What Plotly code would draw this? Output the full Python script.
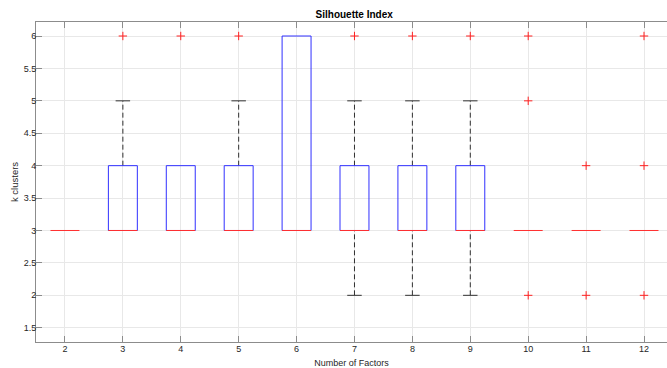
import plotly.graph_objects as go

factors = [2, 3, 4, 5, 6, 7, 8, 9, 10, 11, 12]
q1 = [3, 3, 3, 3, 3, 3, 3, 3, 3, 3, 3]
medians = [3, 3, 3, 3, 3, 3, 3, 3, 3, 3, 3]
q3 = [3, 4, 4, 4, 6, 4, 4, 4, 3, 3, 3]
whisker_lo = [3, 3, 3, 3, 3, 2, 2, 2, 3, 3, 3]
whisker_hi = [3, 5, 4, 5, 6, 5, 5, 5, 3, 3, 3]
outliers = {
    3: [6], 4: [6], 5: [6], 7: [6], 8: [6], 9: [6],
    10: [2, 5, 6], 11: [2, 4], 12: [2, 4, 6],
}

BOX_HALF = 0.25
CAP_HALF = 0.125

fig = go.Figure()

bx, by = [], []
mx, my = [], []
wx, wy = [], []
cx, cy = [], []
for f, a, m, b, lo, hi in zip(factors, q1, medians, q3, whisker_lo, whisker_hi):
    if b > a:
        bx += [f - BOX_HALF, f + BOX_HALF, f + BOX_HALF, f - BOX_HALF, f - BOX_HALF, None]
        by += [a, a, b, b, a, None]
    if hi > b:
        wx += [f, f, None]
        wy += [b, hi, None]
        cx += [f - CAP_HALF, f + CAP_HALF, None]
        cy += [hi, hi, None]
    if lo < a:
        wx += [f, f, None]
        wy += [lo, a, None]
        cx += [f - CAP_HALF, f + CAP_HALF, None]
        cy += [lo, lo, None]
    mx += [f - BOX_HALF, f + BOX_HALF, None]
    my += [m, m, None]

ox, oy = [], []
for f, vals in outliers.items():
    for v in vals:
        ox.append(f)
        oy.append(v)

fig.add_trace(go.Scatter(x=wx, y=wy, mode="lines",
                         line=dict(color="#303030", width=1, dash="5px,3px"),
                         hoverinfo="skip"))
fig.add_trace(go.Scatter(x=cx, y=cy, mode="lines",
                         line=dict(color="#303030", width=1), hoverinfo="skip"))
fig.add_trace(go.Scatter(x=bx, y=by, mode="lines",
                         line=dict(color="#3030ff", width=1), hoverinfo="skip"))
fig.add_trace(go.Scatter(x=mx, y=my, mode="lines",
                         line=dict(color="#ff3030", width=1), hoverinfo="skip"))
fig.add_trace(go.Scatter(x=ox, y=oy, mode="markers",
                         marker=dict(symbol="cross-thin", size=6,
                                     line=dict(color="#ff2020", width=1)),
                         hoverinfo="skip"))

FONT = "Liberation Sans, Arial"
axis_common = dict(
    showline=True, linecolor="#8c8c8c", linewidth=1,
    ticks="inside", ticklen=6, tickcolor="#8c8c8c", tickwidth=1,
    showgrid=True, gridcolor="#e8e8e8", gridwidth=1, zeroline=False,
    tickfont=dict(family=FONT, size=9, color="#262626"),
)

fig.update_layout(
    width=667, height=368,
    margin=dict(l=36, r=0, t=22, b=26),
    paper_bgcolor="white", plot_bgcolor="white",
    showlegend=False,
    title=dict(text="<b>Silhouette Index</b>", x=0.531, xanchor="center",
               y=1 - 14 / 368, yanchor="middle",
               font=dict(family=FONT, size=10, color="#000000")),
    xaxis=dict(range=[1.5, 12.397], tickmode="array", tickvals=factors,
               ticktext=[str(f) for f in factors], ticklabelstandoff=-2,
               mirror="ticks",
               title=dict(text="Number of Factors", standoff=6,
                          font=dict(family=FONT, size=9, color="#262626")),
               **axis_common),
    yaxis=dict(range=[1.28, 6.216], tickmode="array",
               tickvals=[1.5, 2, 2.5, 3, 3.5, 4, 4.5, 5, 5.5, 6],
               ticktext=["1.5", "2", "2.5", "3", "3.5", "4", "4.5", "5", "5.5", "6"],
               ticklabelstandoff=-3, mirror=False,
               title=dict(text="k clusters", standoff=3,
                          font=dict(family=FONT, size=9.5, color="#262626")),
               **axis_common),
)

fig.write_html("out.html")
